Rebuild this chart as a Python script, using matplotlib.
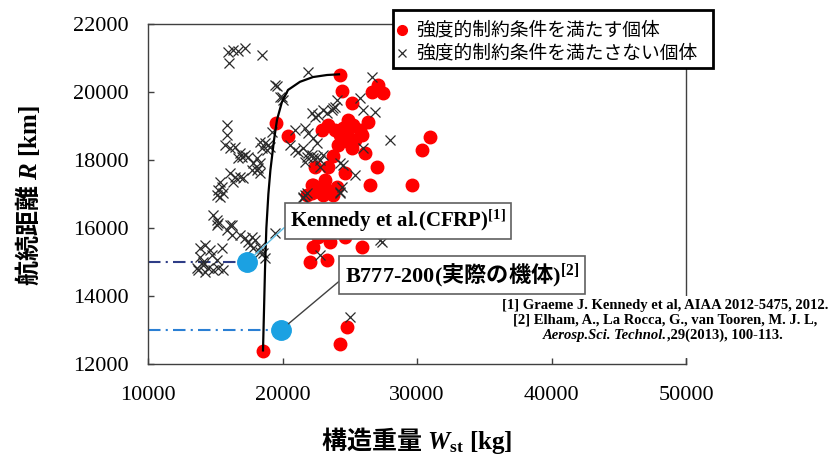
import matplotlib
matplotlib.use("Agg")
import matplotlib.pyplot as plt
from matplotlib.lines import Line2D
from matplotlib.patches import Rectangle

# ─── DATA ─────────────────────────────────────────────────────
# individuals that satisfy the strength constraint (red circles)
ok_w = [24275, 24402, 25145, 26632, 27123, 27495,
        19517, 20431,
        22915, 23406, 24521, 25264, 25762, 24647, 25019, 25145, 24275, 24773,
        25390, 24127, 24870, 25911, 23900,
        26380, 26134, 23777, 22416, 23406, 24647, 27004, 26506, 29606, 30967, 30350,
        22172, 23160, 22788, 23777, 21800, 22268, 22788, 23309, 24052, 22193, 23011,
        22788, 24275,
        22268, 23532, 22045, 23309, 25911, 24647, 22640,
        24796, 24275, 18550]
ok_r = [20500, 20038, 19685, 20009, 20206, 19962,
        19097, 18706,
        18882, 19030, 18933, 19030, 18882, 18686, 18491, 18344, 18735, 18833,
        18589, 18441, 19180, 18735, 18882,
        19127, 18215, 18118, 17803, 17803, 17627, 17803, 17265, 17265, 18686, 18294,
        17265, 17412, 17068, 16971, 16971, 17265, 17206, 17118, 17206, 17030, 16971,
        16530, 16236,
        15441, 15588, 15000, 15059, 15441, 15735, 15735,
        13088, 12588, 12383]

# individuals that do not satisfy it (crosses)
ng_w = [15950, 16320, 16690, 17210, 16020, 18480,
        21900, 19590, 19960, 20040, 26650, 24050, 23750, 25760, 25990, 26880,
        22190, 22420, 22640, 23010, 23310, 23680, 23900,
        15870, 15870, 15720, 16100, 16470,
        16840, 16990, 17210, 17430, 16690,
        18330, 18700, 18920, 18480, 18850, 19070,
        18100, 17810, 18330, 17730, 18100, 18180, 18330,
        16100, 16470, 16840, 16320, 17060,
        15350, 15500, 15200, 15130, 15350, 15580,
        14830, 15130, 15130, 16100,
        20560, 20930, 21150, 21520, 21900, 21820, 22190, 22270, 22570, 22790, 23010, 21670, 22790,
        20930, 21670, 21900, 22270, 22570,
        24280, 24420, 21670, 24500, 27990,
        15200, 16250,
        15870, 16250, 16840, 17210, 17430, 17730, 17960, 17580, 17810, 18330, 18330, 18550, 18700, 19440,
        14240, 13870, 14610, 15500, 13870, 14760, 15130, 14090, 13720, 14240, 14460, 14830, 15200, 15580, 14090, 13640,
        21820, 21520, 27250, 27400, 22790, 25020,
        19443, 19814, 19197, 26010, 24275, 25390, 24275, 21547]
ng_r = [21180, 21240, 21200, 21290, 20850, 21090,
        20590, 20180, 19850, 19760, 20440, 19760, 19530, 19820, 19470, 19410,
        19380, 19260, 19320, 19470, 19380, 19470, 19560,
        19030, 18740, 18440, 18350, 18380,
        18200, 18090, 18150, 18090, 18060,
        18530, 18500, 18440, 18350, 18290, 18380,
        18060, 17910, 17910, 17710, 17710, 17760, 17620,
        17620, 17500, 17500, 17350, 17470,
        17350, 17210, 17120, 16970, 16910, 17030,
        16380, 16240, 16090, 16090,
        18440, 18290, 18240, 18350, 18200, 18090, 18150, 18060, 18090, 18000, 18150, 17940, 17790,
        18880, 18940, 18790, 18650, 18500,
        17030, 17210, 16970, 17850, 18590,
        16150, 16090,
        15940, 15790, 15790, 15710, 15590, 15740, 15650, 15500, 15410, 15440, 15290, 15260, 15120, 15850,
        15500, 15410, 15350, 15410, 15150, 15210, 15060, 14910, 14760, 14710, 14820, 14760, 14820, 14760, 15000, 14820,
        17030, 16880, 15650, 15590, 15210, 13380,
        20206, 19862, 18833, 18344, 17903, 17560, 17068, 16921]

# pareto front curve
front_w = [18550, 18620, 18700, 18800, 18950, 19100, 19370, 19590, 19960,
           20410, 21300, 22270, 23310, 24200]
front_r = [12400, 13500, 14800, 16000, 17000, 17700, 18590, 19180, 19710,
           20060, 20300, 20440, 20500, 20520]

# reference aircraft: Kennedy et al. (CFRP), B777-200
ref_w = [17360, 19890]
ref_r = [15000, 13000]
ref_labels = ["Kennedy et al.(CFRP)$^{\\mathbf{[1]}}$",
              "B777-200($\\mathsf{実際の機体}$)$^{\\mathbf{[2]}}$"]
ref_label_pos = [(20558, 16206), (24647, 14618)]

legend_labels = ["強度的制約条件を満たす個体", "強度的制約条件を満たさない個体"]
x_ticks = [10000, 20000, 30000, 40000, 50000]
y_ticks = [12000, 14000, 16000, 18000, 20000, 22000]
# ──────────────────────────────────────────────────────────────

# serif (Times-like) for latin, bold gothic for the Japanese parts via \mathsf
plt.rcParams['mathtext.fontset'] = 'custom'
plt.rcParams['mathtext.rm'] = 'Liberation Serif'
plt.rcParams['mathtext.it'] = 'Liberation Serif:italic'
plt.rcParams['mathtext.bf'] = 'Liberation Serif:bold'
plt.rcParams['mathtext.bfit'] = 'Liberation Serif:italic:bold'
plt.rcParams['mathtext.sf'] = 'Noto Sans CJK JP:bold'

W, H = 832, 457
fig = plt.figure(figsize=(W / 100, H / 100), dpi=100)
ax = fig.add_axes([148 / W, 1 - 364 / H, 538 / W, 340 / H])

# markers
ax.plot(ok_w, ok_r, 'o', color='#ff0000', markersize=9, zorder=3)
ax.plot(ng_w, ng_r, 'x', color='#2b2b2b', markersize=6.5, mew=0.9, zorder=4)
ax.plot(front_w, front_r, '-', color='black', lw=1.6, zorder=5)

# dash-dot guides from the y axis to the reference points
ax.hlines(ref_r[0], 10000, ref_w[0], colors='#2e3d87', lw=1.5,
          linestyles=(0, (6, 2.5, 1, 2.5)), zorder=2)
ax.hlines(ref_r[1], 10000, ref_w[1], colors='#2a7fd4', lw=1.5,
          linestyles=(0, (6, 2.5, 1, 2.5)), zorder=2)
ax.plot(ref_w, ref_r, 'o', color='#1ba1e2', markersize=14, zorder=6)

leader_colors = ['#5bbde5', '#404040']
label_sizes = [15, 16]
for i in range(2):
    ax.annotate(ref_labels[i], xy=(ref_w[i], ref_r[i]), xytext=ref_label_pos[i],
                ha='left', va='center', fontsize=label_sizes[i], fontweight='bold',
                family='Liberation Serif', zorder=7,
                bbox=dict(boxstyle='square,pad=0.25', fc='white', ec='#606060', lw=1.2),
                arrowprops=dict(arrowstyle='-', color=leader_colors[i], lw=1,
                                relpos=(0, 0.45), shrinkA=0, shrinkB=7))

# axes styling
ax.set_xlim(10000, 50000)
ax.set_ylim(12000, 22000)
ax.set_xticks(x_ticks)
ax.set_yticks(y_ticks)
for s in ax.spines.values():
    s.set_color('#404040')
    s.set_linewidth(1.0)
ax.tick_params(direction='in', length=4.5, width=1, color='#404040',
               labelsize=16, labelcolor='black')
ax.tick_params(axis='y', pad=14)
ax.tick_params(axis='x', pad=16)
for lab in ax.get_xticklabels() + ax.get_yticklabels():
    lab.set_family('Liberation Serif')

ax.set_ylabel("$\\mathsf{航続距離}$ $\\mathbfit{R}$ [km]", family='Liberation Serif',
              fontweight='bold', fontsize=18, va='center')
ax.yaxis.set_label_coords((28 - 148) / 538, 0.496)
ax.set_xlabel("$\\mathsf{構造重量}$ $\\mathbfit{W}_{\\mathbf{st}}$ [kg]",
              family='Liberation Serif', fontweight='bold', fontsize=18, va='center')
ax.xaxis.set_label_coords(0.5, (364 - 440) / 340)

# legend box drawn by hand so the rows sit like the original (covers the spines)
fig.patches.append(Rectangle((393 / W, 1 - 68 / H), 320 / W, 58 / H,
                             transform=fig.transFigure, fc='white', ec='black',
                             lw=2, zorder=8))
legend_markers = [dict(marker='o', color='#ff0000', markersize=7),
                  dict(marker='x', color='#2b2b2b', markersize=6, mew=0.9)]
for row, (lab, mk) in enumerate(zip(legend_labels, legend_markers)):
    yc = 1 - (30 + 23 * row) / H
    fig.add_artist(Line2D([402 / W], [yc], transform=fig.transFigure,
                          ls='none', zorder=9, **mk))
    fig.text(416 / W, yc, lab, ha='left', va='center', family='Noto Sans CJK JP',
             fontsize=13.5, zorder=9)

# literature references (white box hides the right spine behind them)
fig.patches.append(Rectangle((500 / W, 1 - 358 / H), 330 / W, 62 / H,
                             transform=fig.transFigure, fc='white', ec='none', zorder=1))
fig.text(665 / W, 1 - 305 / H, "[1] Graeme J. Kennedy et al, AIAA 2012-5475, 2012.",
         ha='center', va='center', fontsize=10.5, weight='bold',
         family='Liberation Serif', zorder=2)
fig.text(665 / W, 1 - 320 / H, "[2] Elham, A., La Rocca, G., van Tooren, M. J. L,",
         ha='center', va='center', fontsize=10.5, weight='bold',
         family='Liberation Serif', zorder=2)
fig.text(667 / W, 1 - 335 / H, "Aerosp.Sci. Technol.", ha='right', va='center',
         fontsize=10.5, weight='bold', style='italic', family='Liberation Serif', zorder=2)
fig.text(667 / W, 1 - 335 / H, ",29(2013), 100-113.", ha='left', va='center',
         fontsize=10.5, weight='bold', family='Liberation Serif', zorder=2)

fig.savefig("out.png", dpi=100)
